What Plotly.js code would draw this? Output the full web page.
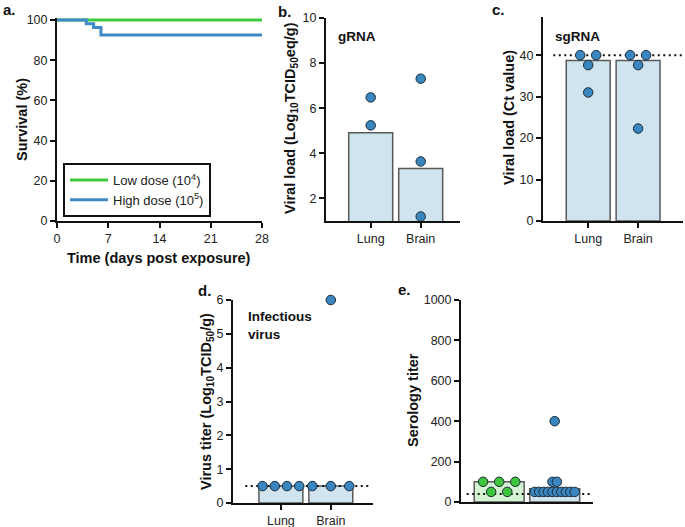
<!DOCTYPE html>
<html>
<head>
<meta charset="utf-8">
<script src="https://cdn.plot.ly/plotly-3.0.1.min.js"></script>
<style>html,body{margin:0;padding:0;background:#fff;}#chart{width:685px;height:527px;}</style>
</head>
<body>
<div id="chart"></div>
<script>
// ---------- DATA ----------
const survDaysLow = [0, 28];
const survLow = [100, 100];
const survDaysHigh = [0, 4, 5, 6, 28];
const survHigh = [100, 98.1, 96.3, 92.6, 92.6];
const legendNames = ['Low dose (10<sup>4</sup>)', 'High dose (10<sup>5</sup>)'];
const dayTicks = [0, 7, 14, 21, 28];

const organs = ['Lung', 'Brain'];

// b. gRNA
const gRNAbar = [4.91, 3.33];
const gRNALung = [6.48, 5.24];
const gRNABrain = [7.31, 3.64, 1.2];

// c. sgRNA
const sgRNAbar = [38.7, 38.7];
const sgRNALung = [40, 40, 37.6, 31];
const sgRNABrain = [40, 40, 37.6, 22.3];
const sgRNAlimit = 40;

// d. infectious virus
const virusBar = [0.5, 0.5];
const virusLung = [0.5, 0.5, 0.5, 0.5];
const virusBrain = [0.5, 0.5, 0.5, 6];
const virusLimit = 0.5;

// e. serology
const seroBar = [100, 65];
const seroLow = [100, 100, 100, 50, 50];
const seroHigh = [50, 50, 50, 50, 50, 50, 50, 50, 50, 50, 100, 100, 400];
const seroLimit = 40;

// ---------- STYLE ----------
const W = 685, H = 527;
const FONT = 'Liberation Sans, Arial, sans-serif';
const GREEN = '#3ecb3e', BLUE = '#3f8ac6';
const MBLUE = '#3a86c0', MGREEN = '#3fc43f';
const BARBLUE = '#cfe4ee', BARGREEN = '#d3f3d3', BAROUT = '#5a5a5a';

function dx(a, b) { return [a / W, b / W]; }
function dy(top, bottom) { return [1 - bottom / H, 1 - top / H]; }

// spread points with equal values symmetrically around the category centre
function spread(vals, centre, spacing) {
  const groups = {};
  vals.forEach((v, i) => { (groups[v] = groups[v] || []).push(i); });
  const xs = new Array(vals.length);
  Object.values(groups).forEach(idx => {
    const n = idx.length;
    idx.forEach((k, j) => { xs[k] = centre + (j - (n - 1) / 2) * spacing; });
  });
  return xs;
}

const axBase = {
  showline: true, linewidth: 2, linecolor: '#111', ticks: 'outside', ticklen: 5,
  tickwidth: 2, tickcolor: '#111', showgrid: false, zeroline: false, fixedrange: true,
  tickfont: { family: FONT, size: 12.5, color: '#222' }
};
function ax(extra) { return Object.assign({}, axBase, extra); }

const traces = [];

// a. survival
traces.push({ x: survDaysLow, y: survLow, type: 'scatter', mode: 'lines', line: { color: GREEN, width: 3, shape: 'hv' },
  name: legendNames[0], xaxis: 'x', yaxis: 'y', cliponaxis: false });
traces.push({ x: survDaysHigh, y: survHigh, type: 'scatter', mode: 'lines', line: { color: BLUE, width: 3, shape: 'hv' },
  name: legendNames[1], xaxis: 'x', yaxis: 'y', cliponaxis: false });

function barTrace(vals, xa, ya, widthU, fills) {
  return { x: vals.map((v, i) => i), y: vals, type: 'bar', width: widthU, xaxis: xa, yaxis: ya, showlegend: false,
    marker: { color: fills, line: { color: BAROUT, width: 1.5 } }, hoverinfo: 'skip' };
}
function dotTrace(xs, ys, xa, ya, color) {
  return { x: xs, y: ys, type: 'scatter', mode: 'markers', xaxis: xa, yaxis: ya, showlegend: false, cliponaxis: false,
    marker: { size: 9.5, color: color, line: { color: '#1b2a35', width: 1 } } };
}
function limitTrace(x0, x1, v, xa, ya) {
  return { x: [x0, x1], y: [v, v], type: 'scatter', mode: 'lines', xaxis: xa, yaxis: ya, showlegend: false,
    line: { color: '#111', width: 2, dash: '2px,3.5px' }, hoverinfo: 'skip', cliponaxis: false };
}

// b
traces.push(barTrace(gRNAbar, 'x2', 'y2', 0.88, BARBLUE));
traces.push(dotTrace(spread(gRNALung, 0, 0.32), gRNALung, 'x2', 'y2', MBLUE));
traces.push(dotTrace(spread(gRNABrain, 1, 0.32), gRNABrain, 'x2', 'y2', MBLUE));

// c
traces.push(barTrace(sgRNAbar, 'x3', 'y3', 0.88, BARBLUE));
traces.push(limitTrace(-0.7, 1.9, sgRNAlimit, 'x3', 'y3'));
traces.push(dotTrace(spread(sgRNALung, 0, 0.32), sgRNALung, 'x3', 'y3', MBLUE));
traces.push(dotTrace(spread(sgRNABrain, 1, 0.32), sgRNABrain, 'x3', 'y3', MBLUE));

// d
traces.push(barTrace(virusBar, 'x4', 'y4', 0.88, BARBLUE));
traces.push(limitTrace(-0.714, 1.82, virusLimit, 'x4', 'y4'));
traces.push(dotTrace(spread(virusLung, 0, 0.245), virusLung, 'x4', 'y4', MBLUE));
traces.push(dotTrace(spread(virusBrain, 1, 0.37), virusBrain, 'x4', 'y4', MBLUE));

// e
traces.push(barTrace(seroBar, 'x5', 'y5', 0.9, [BARGREEN, BARBLUE]));
traces.push(limitTrace(-0.586, 1.636, seroLimit, 'x5', 'y5'));
traces.push(dotTrace(spread(seroLow, 0, 0.29), seroLow, 'x5', 'y5', MGREEN));
traces.push(dotTrace(spread(seroHigh, 1, 0.08), seroHigh, 'x5', 'y5', MBLUE));

function label(text, x, y, opts) {
  return Object.assign({ text: text, x: x / W, y: 1 - y / H, xref: 'paper', yref: 'paper', showarrow: false,
    font: { family: FONT, size: 14.5, color: '#111' }, xanchor: 'center', yanchor: 'middle' }, opts || {});
}
function ytitle(text, x, yc) {
  return label('<b>' + text + '</b>', x, yc, { textangle: -90 });
}

const annotations = [
  label('<b>a.</b>', 1, 9, { xanchor: 'left', font: { family: FONT, size: 15, color: '#111' } }),
  label('<b>b.</b>', 276, 11, { xanchor: 'left', font: { family: FONT, size: 15, color: '#111' } }),
  label('<b>c.</b>', 490, 9, { xanchor: 'left', font: { family: FONT, size: 15, color: '#111' } }),
  label('<b>d.</b>', 196, 290, { xanchor: 'left', font: { family: FONT, size: 15, color: '#111' } }),
  label('<b>e.</b>', 396, 289, { xanchor: 'left', font: { family: FONT, size: 15, color: '#111' } }),
  ytitle('Survival (%)', 22, 120),
  label('<b>Time (days post exposure)</b>', 159, 258),
  ytitle('Viral load (Log<sub>10</sub>TCID<sub>50</sub>eq/g)', 291, 118),
  ytitle('Viral load (Ct value)', 509, 118),
  ytitle('Virus titer (Log<sub>10</sub>TCID<sub>50</sub>/g)', 207, 402),
  ytitle('Serology titer', 413, 400),
  label('<b>gRNA</b>', 336, 36, { xanchor: 'left', font: { family: FONT, size: 13.5, color: '#111' } }),
  label('<b>sgRNA</b>', 553, 36, { xanchor: 'left', font: { family: FONT, size: 13.5, color: '#111' } }),
  label('<b>Infectious<br>virus</b>', 246, 325, { xanchor: 'left', align: 'left', font: { family: FONT, size: 13.5, color: '#111' } })
];

const layout = {
  width: W, height: H, margin: { l: 0, r: 0, t: 0, b: 0 }, paper_bgcolor: '#fff', plot_bgcolor: 'rgba(0,0,0,0)',
  showlegend: true, bargap: 0,
  legend: { x: 63 / W, y: 1 - 163 / H, xanchor: 'left', yanchor: 'top', bordercolor: '#111', borderwidth: 2,
    bgcolor: '#fff', font: { family: FONT, size: 13, color: '#222' }, itemwidth: 38, tracegroupgap: 0 },
  xaxis: ax({ domain: dx(57, 262), range: [0, 28], tickvals: dayTicks, anchor: 'y' }),
  yaxis: ax({ domain: dy(18, 221), range: [0, 101], tickvals: [0, 20, 40, 60, 80, 100], anchor: 'x' }),
  xaxis2: ax({ domain: dx(326, 460), range: [-0.894, 1.786], tickvals: [0, 1], ticktext: organs, anchor: 'y2' }),
  yaxis2: ax({ domain: dy(18, 221), range: [1, 10], tickvals: [2, 4, 6, 8, 10], anchor: 'x2' }),
  xaxis3: ax({ domain: dx(543, 683), range: [-0.906, 1.9], tickvals: [0, 1], ticktext: organs, anchor: 'y3' }),
  yaxis3: ax({ domain: dy(17, 221), range: [0, 49.2], tickvals: [0, 10, 20, 30, 40], anchor: 'x3' }),
  xaxis4: ax({ domain: dx(233, 373), range: [-0.96, 1.846], tickvals: [0, 1], ticktext: organs, anchor: 'y4' }),
  yaxis4: ax({ domain: dy(300, 503), range: [0, 6], tickvals: [0, 1, 2, 3, 4, 5, 6], anchor: 'x4' }),
  xaxis5: ax({ domain: dx(461, 593), range: [-0.688, 1.69], ticks: '', showticklabels: false, anchor: 'y5' }),
  yaxis5: ax({ domain: dy(300, 502), range: [0, 1000], tickvals: [0, 200, 400, 600, 800, 1000], anchor: 'x5' }),
  annotations: annotations
};

Plotly.newPlot('chart', traces, layout, { displayModeBar: false, staticPlot: true });
</script>
</body>
</html>
